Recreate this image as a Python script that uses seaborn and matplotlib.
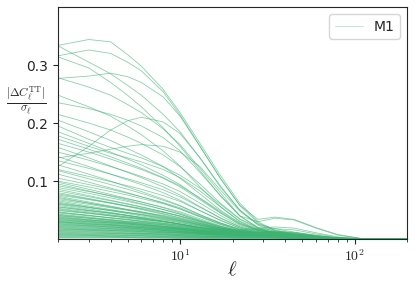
import numpy as np
import pandas as pd
import matplotlib
matplotlib.use('Agg')
import matplotlib.pyplot as plt
import matplotlib.ticker as mticker
import seaborn as sns

ell = [2, 3, 4, 5, 6, 8, 10, 13, 17, 22, 28, 35, 45, 60, 80, 110, 200]

# high curves (start 0.23-0.34)
top_curves = [
    [0.334, 0.344, 0.340, 0.318, 0.298, 0.258, 0.218, 0.165, 0.110, 0.062, 0.030, 0.015, 0.008, 0.004, 0.002, 0.001, 0.0],
    [0.316, 0.326, 0.320, 0.305, 0.290, 0.254, 0.214, 0.160, 0.105, 0.058, 0.028, 0.014, 0.007, 0.003, 0.002, 0.001, 0.0],
    [0.333, 0.305, 0.285, 0.265, 0.248, 0.215, 0.185, 0.140, 0.092, 0.050, 0.024, 0.012, 0.006, 0.003, 0.001, 0.0, 0.0],
    [0.314, 0.295, 0.270, 0.248, 0.228, 0.192, 0.160, 0.118, 0.075, 0.040, 0.020, 0.010, 0.005, 0.002, 0.001, 0.0, 0.0],
    [0.277, 0.281, 0.286, 0.280, 0.270, 0.245, 0.212, 0.160, 0.105, 0.058, 0.034, 0.038, 0.034, 0.020, 0.008, 0.001, 0.0],
    [0.278, 0.262, 0.248, 0.232, 0.218, 0.190, 0.163, 0.122, 0.080, 0.040, 0.030, 0.036, 0.033, 0.019, 0.007, 0.001, 0.0],
    [0.248, 0.228, 0.212, 0.195, 0.180, 0.152, 0.126, 0.090, 0.056, 0.030, 0.015, 0.008, 0.004, 0.002, 0.001, 0.0, 0.0],
    [0.235, 0.225, 0.215, 0.205, 0.195, 0.175, 0.152, 0.115, 0.075, 0.040, 0.019, 0.009, 0.004, 0.002, 0.001, 0.0, 0.0],
]

# middle curves (start 0.08-0.22)
mid_curves = [
    [0.215, 0.200, 0.188, 0.176, 0.165, 0.145, 0.125, 0.095, 0.062, 0.035, 0.020, 0.014, 0.010, 0.006, 0.002, 0.0, 0.0],
    [0.205, 0.185, 0.170, 0.156, 0.145, 0.125, 0.105, 0.078, 0.050, 0.028, 0.016, 0.012, 0.009, 0.005, 0.002, 0.0, 0.0],
    [0.125, 0.160, 0.188, 0.204, 0.210, 0.202, 0.182, 0.140, 0.090, 0.050, 0.026, 0.018, 0.012, 0.006, 0.002, 0.0, 0.0],
    [0.195, 0.172, 0.158, 0.148, 0.140, 0.125, 0.110, 0.088, 0.060, 0.034, 0.018, 0.012, 0.009, 0.005, 0.002, 0.0, 0.0],
    [0.185, 0.165, 0.150, 0.138, 0.128, 0.110, 0.094, 0.070, 0.046, 0.026, 0.015, 0.011, 0.008, 0.004, 0.001, 0.0, 0.0],
    [0.178, 0.160, 0.148, 0.140, 0.133, 0.120, 0.106, 0.083, 0.056, 0.031, 0.017, 0.012, 0.009, 0.005, 0.002, 0.0, 0.0],
    [0.165, 0.150, 0.138, 0.128, 0.120, 0.105, 0.090, 0.068, 0.045, 0.025, 0.015, 0.011, 0.008, 0.004, 0.001, 0.0, 0.0],
    [0.140, 0.148, 0.155, 0.160, 0.163, 0.160, 0.150, 0.125, 0.085, 0.048, 0.025, 0.016, 0.010, 0.005, 0.002, 0.0, 0.0],
    [0.158, 0.140, 0.126, 0.115, 0.106, 0.090, 0.076, 0.056, 0.036, 0.021, 0.013, 0.010, 0.007, 0.004, 0.001, 0.0, 0.0],
    [0.150, 0.136, 0.125, 0.116, 0.108, 0.095, 0.082, 0.062, 0.041, 0.023, 0.014, 0.011, 0.008, 0.004, 0.001, 0.0, 0.0],
    [0.142, 0.125, 0.112, 0.102, 0.094, 0.080, 0.067, 0.049, 0.032, 0.019, 0.012, 0.009, 0.007, 0.003, 0.001, 0.0, 0.0],
    [0.135, 0.122, 0.112, 0.104, 0.097, 0.085, 0.073, 0.055, 0.037, 0.021, 0.013, 0.010, 0.007, 0.004, 0.001, 0.0, 0.0],
    [0.128, 0.112, 0.100, 0.090, 0.082, 0.069, 0.058, 0.042, 0.028, 0.017, 0.011, 0.009, 0.006, 0.003, 0.001, 0.0, 0.0],
    [0.120, 0.108, 0.099, 0.092, 0.086, 0.075, 0.065, 0.049, 0.033, 0.019, 0.012, 0.009, 0.007, 0.003, 0.001, 0.0, 0.0],
    [0.112, 0.098, 0.088, 0.080, 0.073, 0.062, 0.052, 0.038, 0.025, 0.015, 0.010, 0.008, 0.006, 0.003, 0.001, 0.0, 0.0],
    [0.105, 0.094, 0.086, 0.079, 0.073, 0.063, 0.054, 0.040, 0.027, 0.016, 0.011, 0.009, 0.006, 0.003, 0.001, 0.0, 0.0],
    [0.098, 0.086, 0.077, 0.070, 0.064, 0.054, 0.045, 0.033, 0.022, 0.014, 0.010, 0.008, 0.005, 0.002, 0.001, 0.0, 0.0],
    [0.092, 0.082, 0.075, 0.069, 0.064, 0.055, 0.047, 0.035, 0.023, 0.014, 0.010, 0.008, 0.005, 0.002, 0.001, 0.0, 0.0],
    [0.086, 0.075, 0.067, 0.061, 0.056, 0.047, 0.039, 0.029, 0.019, 0.012, 0.009, 0.007, 0.005, 0.002, 0.001, 0.0, 0.0],
    [0.172, 0.155, 0.142, 0.131, 0.122, 0.106, 0.092, 0.071, 0.048, 0.027, 0.016, 0.012, 0.008, 0.004, 0.001, 0.0, 0.0],
    [0.118, 0.104, 0.094, 0.086, 0.079, 0.067, 0.057, 0.042, 0.028, 0.017, 0.011, 0.009, 0.006, 0.003, 0.001, 0.0, 0.0],
    [0.100, 0.090, 0.082, 0.076, 0.070, 0.061, 0.052, 0.039, 0.026, 0.016, 0.011, 0.009, 0.006, 0.003, 0.001, 0.0, 0.0],
    [0.095, 0.083, 0.074, 0.067, 0.061, 0.051, 0.043, 0.031, 0.021, 0.013, 0.009, 0.007, 0.005, 0.002, 0.001, 0.0, 0.0],
    [0.089, 0.079, 0.071, 0.065, 0.060, 0.051, 0.043, 0.032, 0.022, 0.014, 0.010, 0.008, 0.006, 0.003, 0.001, 0.0, 0.0],
    [0.083, 0.073, 0.066, 0.060, 0.055, 0.047, 0.040, 0.030, 0.020, 0.013, 0.010, 0.008, 0.006, 0.003, 0.001, 0.0, 0.0],
]

# low curves (start below 0.08), the dense band near zero
low_curves = [
    [0.080, 0.070, 0.063, 0.057, 0.052, 0.044, 0.037, 0.028, 0.019, 0.013, 0.010, 0.009, 0.007, 0.003, 0.001, 0.0, 0.0],
    [0.078, 0.069, 0.062, 0.056, 0.051, 0.043, 0.036, 0.027, 0.019, 0.013, 0.011, 0.010, 0.008, 0.004, 0.001, 0.0, 0.0],
    [0.076, 0.068, 0.062, 0.057, 0.053, 0.046, 0.040, 0.031, 0.021, 0.014, 0.011, 0.010, 0.008, 0.004, 0.001, 0.0, 0.0],
    [0.074, 0.064, 0.057, 0.051, 0.047, 0.039, 0.033, 0.025, 0.017, 0.012, 0.010, 0.009, 0.007, 0.003, 0.001, 0.0, 0.0],
    [0.072, 0.062, 0.055, 0.050, 0.045, 0.038, 0.032, 0.024, 0.017, 0.012, 0.010, 0.009, 0.007, 0.003, 0.001, 0.0, 0.0],
    [0.070, 0.062, 0.056, 0.051, 0.047, 0.041, 0.035, 0.027, 0.019, 0.013, 0.011, 0.010, 0.008, 0.004, 0.001, 0.0, 0.0],
    [0.068, 0.060, 0.054, 0.050, 0.046, 0.040, 0.034, 0.026, 0.018, 0.013, 0.011, 0.010, 0.008, 0.004, 0.001, 0.0, 0.0],
    [0.066, 0.057, 0.051, 0.046, 0.042, 0.035, 0.030, 0.023, 0.016, 0.012, 0.010, 0.009, 0.007, 0.003, 0.001, 0.0, 0.0],
    [0.064, 0.055, 0.049, 0.044, 0.040, 0.034, 0.029, 0.022, 0.016, 0.012, 0.010, 0.009, 0.007, 0.003, 0.001, 0.0, 0.0],
    [0.062, 0.055, 0.050, 0.046, 0.043, 0.037, 0.032, 0.025, 0.018, 0.013, 0.011, 0.010, 0.008, 0.004, 0.001, 0.0, 0.0],
    [0.061, 0.054, 0.049, 0.045, 0.042, 0.036, 0.031, 0.024, 0.017, 0.013, 0.011, 0.010, 0.008, 0.004, 0.001, 0.0, 0.0],
    [0.060, 0.052, 0.046, 0.041, 0.037, 0.031, 0.026, 0.020, 0.016, 0.016, 0.019, 0.021, 0.019, 0.011, 0.004, 0.001, 0.0],
    [0.058, 0.050, 0.045, 0.041, 0.037, 0.031, 0.026, 0.020, 0.014, 0.011, 0.009, 0.008, 0.006, 0.003, 0.001, 0.0, 0.0],
    [0.056, 0.049, 0.044, 0.040, 0.036, 0.031, 0.026, 0.020, 0.015, 0.011, 0.010, 0.009, 0.007, 0.003, 0.001, 0.0, 0.0],
    [0.055, 0.049, 0.045, 0.041, 0.038, 0.033, 0.028, 0.022, 0.016, 0.012, 0.010, 0.009, 0.007, 0.003, 0.001, 0.0, 0.0],
    [0.053, 0.047, 0.042, 0.038, 0.035, 0.030, 0.025, 0.019, 0.014, 0.011, 0.009, 0.008, 0.006, 0.003, 0.001, 0.0, 0.0],
    [0.052, 0.045, 0.040, 0.036, 0.033, 0.028, 0.024, 0.018, 0.013, 0.010, 0.009, 0.008, 0.006, 0.003, 0.001, 0.0, 0.0],
    [0.050, 0.045, 0.041, 0.038, 0.035, 0.030, 0.026, 0.020, 0.015, 0.012, 0.012, 0.013, 0.012, 0.007, 0.002, 0.0, 0.0],
    [0.049, 0.044, 0.040, 0.037, 0.034, 0.030, 0.026, 0.020, 0.015, 0.012, 0.010, 0.009, 0.007, 0.003, 0.001, 0.0, 0.0],
    [0.047, 0.041, 0.036, 0.033, 0.030, 0.026, 0.022, 0.017, 0.012, 0.009, 0.008, 0.007, 0.005, 0.002, 0.001, 0.0, 0.0],
    [0.046, 0.041, 0.037, 0.034, 0.031, 0.027, 0.023, 0.018, 0.013, 0.010, 0.009, 0.008, 0.006, 0.003, 0.001, 0.0, 0.0],
    [0.045, 0.040, 0.037, 0.034, 0.031, 0.027, 0.024, 0.019, 0.014, 0.011, 0.010, 0.009, 0.007, 0.003, 0.001, 0.0, 0.0],
    [0.043, 0.038, 0.034, 0.031, 0.029, 0.025, 0.021, 0.016, 0.012, 0.010, 0.011, 0.012, 0.011, 0.006, 0.002, 0.0, 0.0],
    [0.042, 0.037, 0.033, 0.030, 0.028, 0.024, 0.020, 0.016, 0.012, 0.009, 0.008, 0.007, 0.005, 0.002, 0.001, 0.0, 0.0],
    [0.041, 0.036, 0.032, 0.029, 0.027, 0.023, 0.020, 0.015, 0.011, 0.009, 0.008, 0.007, 0.005, 0.002, 0.001, 0.0, 0.0],
    [0.040, 0.036, 0.033, 0.030, 0.028, 0.025, 0.022, 0.017, 0.013, 0.010, 0.009, 0.008, 0.006, 0.003, 0.001, 0.0, 0.0],
    [0.039, 0.034, 0.031, 0.028, 0.026, 0.022, 0.019, 0.015, 0.011, 0.009, 0.008, 0.007, 0.005, 0.002, 0.001, 0.0, 0.0],
    [0.038, 0.033, 0.030, 0.027, 0.025, 0.021, 0.018, 0.014, 0.010, 0.008, 0.007, 0.006, 0.005, 0.002, 0.001, 0.0, 0.0],
    [0.037, 0.033, 0.030, 0.028, 0.026, 0.022, 0.019, 0.015, 0.011, 0.009, 0.008, 0.007, 0.006, 0.003, 0.001, 0.0, 0.0],
    [0.036, 0.032, 0.029, 0.027, 0.025, 0.022, 0.019, 0.015, 0.011, 0.009, 0.008, 0.007, 0.006, 0.003, 0.001, 0.0, 0.0],
    [0.035, 0.031, 0.028, 0.026, 0.024, 0.020, 0.017, 0.013, 0.010, 0.008, 0.007, 0.006, 0.005, 0.002, 0.001, 0.0, 0.0],
    [0.034, 0.030, 0.027, 0.025, 0.023, 0.020, 0.017, 0.013, 0.010, 0.008, 0.007, 0.006, 0.005, 0.002, 0.001, 0.0, 0.0],
    [0.033, 0.030, 0.028, 0.026, 0.024, 0.021, 0.018, 0.014, 0.011, 0.009, 0.008, 0.007, 0.006, 0.003, 0.001, 0.0, 0.0],
    [0.032, 0.029, 0.026, 0.024, 0.022, 0.019, 0.017, 0.014, 0.011, 0.009, 0.008, 0.008, 0.006, 0.003, 0.001, 0.0, 0.0],
    [0.031, 0.028, 0.025, 0.023, 0.021, 0.018, 0.016, 0.013, 0.010, 0.008, 0.008, 0.007, 0.005, 0.002, 0.001, 0.0, 0.0],
    [0.030, 0.027, 0.025, 0.023, 0.022, 0.019, 0.017, 0.015, 0.014, 0.015, 0.017, 0.018, 0.016, 0.009, 0.003, 0.0, 0.0],
    [0.030, 0.026, 0.024, 0.022, 0.020, 0.017, 0.015, 0.012, 0.009, 0.007, 0.007, 0.006, 0.005, 0.002, 0.001, 0.0, 0.0],
    [0.029, 0.026, 0.024, 0.022, 0.020, 0.018, 0.016, 0.013, 0.010, 0.008, 0.008, 0.007, 0.006, 0.003, 0.001, 0.0, 0.0],
    [0.028, 0.025, 0.023, 0.021, 0.020, 0.017, 0.015, 0.012, 0.010, 0.008, 0.008, 0.007, 0.006, 0.003, 0.001, 0.0, 0.0],
    [0.027, 0.024, 0.022, 0.020, 0.019, 0.016, 0.014, 0.011, 0.009, 0.008, 0.008, 0.008, 0.007, 0.004, 0.001, 0.0, 0.0],
    [0.026, 0.023, 0.021, 0.019, 0.018, 0.015, 0.013, 0.010, 0.008, 0.007, 0.006, 0.006, 0.005, 0.002, 0.001, 0.0, 0.0],
    [0.025, 0.023, 0.021, 0.020, 0.018, 0.016, 0.014, 0.011, 0.009, 0.007, 0.007, 0.006, 0.005, 0.002, 0.001, 0.0, 0.0],
    [0.024, 0.022, 0.020, 0.019, 0.017, 0.015, 0.013, 0.011, 0.009, 0.008, 0.007, 0.007, 0.005, 0.002, 0.001, 0.0, 0.0],
    [0.023, 0.021, 0.019, 0.018, 0.017, 0.015, 0.013, 0.011, 0.009, 0.008, 0.008, 0.008, 0.006, 0.003, 0.001, 0.0, 0.0],
    [0.022, 0.020, 0.018, 0.016, 0.015, 0.013, 0.011, 0.009, 0.007, 0.006, 0.006, 0.005, 0.004, 0.002, 0.0, 0.0, 0.0],
    [0.021, 0.019, 0.018, 0.017, 0.016, 0.014, 0.012, 0.010, 0.008, 0.007, 0.006, 0.006, 0.005, 0.002, 0.001, 0.0, 0.0],
    [0.020, 0.018, 0.017, 0.016, 0.015, 0.013, 0.012, 0.010, 0.008, 0.007, 0.007, 0.006, 0.005, 0.002, 0.001, 0.0, 0.0],
    [0.019, 0.017, 0.016, 0.015, 0.014, 0.012, 0.011, 0.009, 0.008, 0.007, 0.007, 0.007, 0.006, 0.003, 0.001, 0.0, 0.0],
    [0.018, 0.016, 0.015, 0.014, 0.013, 0.011, 0.010, 0.008, 0.007, 0.006, 0.005, 0.005, 0.004, 0.002, 0.0, 0.0, 0.0],
    [0.017, 0.016, 0.015, 0.014, 0.013, 0.012, 0.011, 0.009, 0.008, 0.007, 0.006, 0.006, 0.005, 0.002, 0.001, 0.0, 0.0],
    [0.016, 0.015, 0.014, 0.013, 0.012, 0.011, 0.010, 0.009, 0.008, 0.007, 0.006, 0.006, 0.005, 0.002, 0.001, 0.0, 0.0],
    [0.015, 0.014, 0.013, 0.012, 0.011, 0.010, 0.009, 0.008, 0.007, 0.006, 0.006, 0.005, 0.004, 0.002, 0.0, 0.0, 0.0],
    [0.014, 0.013, 0.012, 0.011, 0.010, 0.009, 0.008, 0.007, 0.006, 0.005, 0.005, 0.004, 0.003, 0.001, 0.0, 0.0, 0.0],
    [0.013, 0.012, 0.011, 0.010, 0.010, 0.009, 0.008, 0.007, 0.006, 0.006, 0.006, 0.006, 0.005, 0.002, 0.001, 0.0, 0.0],
    [0.012, 0.011, 0.010, 0.010, 0.009, 0.008, 0.007, 0.006, 0.005, 0.005, 0.005, 0.004, 0.003, 0.001, 0.0, 0.0, 0.0],
    [0.011, 0.010, 0.010, 0.009, 0.009, 0.008, 0.007, 0.006, 0.005, 0.004, 0.004, 0.004, 0.003, 0.001, 0.0, 0.0, 0.0],
    [0.010, 0.009, 0.009, 0.008, 0.008, 0.007, 0.006, 0.005, 0.004, 0.004, 0.004, 0.004, 0.003, 0.001, 0.0, 0.0, 0.0],
    [0.009, 0.008, 0.008, 0.007, 0.007, 0.006, 0.006, 0.005, 0.004, 0.004, 0.004, 0.003, 0.003, 0.001, 0.0, 0.0, 0.0],
    [0.008, 0.007, 0.007, 0.006, 0.006, 0.005, 0.005, 0.004, 0.004, 0.003, 0.003, 0.003, 0.002, 0.001, 0.0, 0.0, 0.0],
    [0.007, 0.007, 0.006, 0.006, 0.006, 0.005, 0.005, 0.004, 0.004, 0.004, 0.004, 0.004, 0.003, 0.001, 0.0, 0.0, 0.0],
    [0.006, 0.006, 0.005, 0.005, 0.005, 0.004, 0.004, 0.003, 0.003, 0.003, 0.003, 0.002, 0.002, 0.001, 0.0, 0.0, 0.0],
    [0.005, 0.005, 0.005, 0.004, 0.004, 0.004, 0.003, 0.003, 0.003, 0.002, 0.002, 0.002, 0.002, 0.001, 0.0, 0.0, 0.0],
    [0.004, 0.004, 0.004, 0.003, 0.003, 0.003, 0.003, 0.002, 0.002, 0.002, 0.002, 0.002, 0.001, 0.0, 0.0, 0.0, 0.0],
    [0.003, 0.003, 0.003, 0.003, 0.002, 0.002, 0.002, 0.002, 0.002, 0.002, 0.002, 0.002, 0.001, 0.0, 0.0, 0.0, 0.0],
    [0.002, 0.002, 0.002, 0.002, 0.002, 0.002, 0.001, 0.001, 0.001, 0.001, 0.001, 0.001, 0.001, 0.0, 0.0, 0.0, 0.0],
]

curves = top_curves + mid_curves + low_curves
rows = []
for i, c in enumerate(curves):
    for l, v in zip(ell, c):
        rows.append({'ell': l, 'ratio': v, 'curve': i})
df = pd.DataFrame(rows)

sns.set_style('ticks')
plt.rcParams['mathtext.fontset'] = 'cm'
plt.rcParams['font.family'] = ['DejaVu Sans']

fig = plt.figure(figsize=(4.15, 2.81), dpi=100)
ax = fig.add_axes([0.14, 0.149, 0.841, 0.826])

sns.lineplot(data=df, x='ell', y='ratio', units='curve', estimator=None,
             color='mediumseagreen', alpha=0.6, lw=0.6, ax=ax, legend=False)

ax.set_xscale('log')
ax.set_xlim(2, 200)
ax.set_ylim(0, 0.4)
ax.set_yticks([0.1, 0.2, 0.3])
ax.xaxis.set_major_formatter(mticker.FuncFormatter(lambda x, p: r'$10^{%d}$' % round(np.log10(x))))
ax.tick_params(labelsize=10)

ax.set_xlabel(r'$\ell$', fontsize=15, labelpad=-4)
ax.set_ylabel(r'$\frac{|\Delta C_\ell^{\mathrm{TT}}|}{\sigma_\ell}$', fontsize=12,
              rotation=0, va='center', ha='center')
ax.yaxis.set_label_coords(-0.09, 0.6)

leg = ax.legend([ax.lines[0]], ['M1'], loc='upper right', fontsize=10)
leg.get_lines()[0].set_alpha(0.35)

fig.savefig('out.png', dpi=100)
